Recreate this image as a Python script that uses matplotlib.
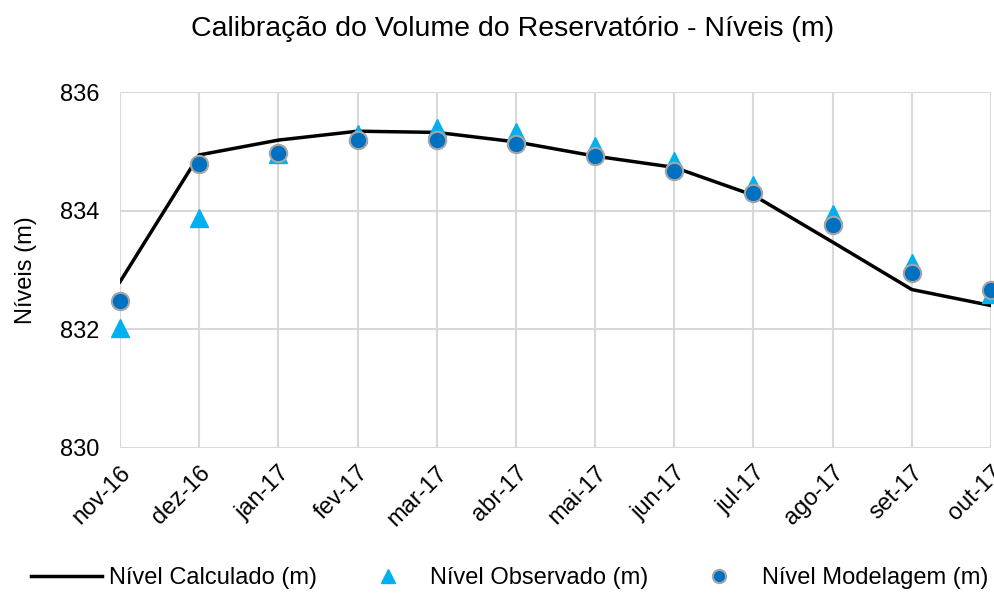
import numpy as np
import matplotlib.pyplot as plt
from matplotlib.lines import Line2D

plt.rcParams['font.family'] = ['Liberation Sans', 'DejaVu Sans']

meses = ['nov-16', 'dez-16', 'jan-17', 'fev-17', 'mar-17', 'abr-17',
         'mai-17', 'jun-17', 'jul-17', 'ago-17', 'set-17', 'out-17']
nivel_calculado = [832.80, 834.94, 835.19, 835.34, 835.32, 835.16,
                   834.92, 834.73, 834.26, 833.47, 832.67, 832.40]
nivel_observado = [832.02, 833.87, 834.95, 835.30, 835.39, 835.33,
                   835.09, 834.83, 834.44, 833.94, 833.12, 832.60]
nivel_modelagem = [832.48, 834.78, 834.97, 835.19, 835.20, 835.13,
                   834.92, 834.67, 834.29, 833.75, 832.95, 832.67]

x = np.arange(len(meses))

fig = plt.figure(figsize=(9.95, 5.94), dpi=100)
ax = fig.add_axes([0.1206, 0.246, 0.8754, 0.599])

ax.plot(x, nivel_calculado, color='black', lw=2.5, zorder=3,
        label='Nível Calculado (m)')
ax.plot(x, nivel_observado, ls='none', marker='^', ms=13.5, color='#00B0F0',
        mec='#00B0F0', zorder=4, clip_on=False, label='Nível Observado (m)')
ax.plot(x, nivel_modelagem, ls='none', marker='o', ms=12.5, color='#0070C0',
        mec='#A5A5A5', mew=1.5, zorder=5, clip_on=False,
        label='Nível Modelagem (m)')

ax.set_xlim(0, len(meses) - 1)
ax.set_ylim(830, 836)
ax.set_yticks([830, 832, 834, 836])
ax.set_xticks(x)
ax.set_xticklabels(meses, rotation=45, ha='right', rotation_mode='anchor')
ax.tick_params(length=0, labelsize=17, colors='black')
ax.tick_params(axis='x', pad=10)
ax.tick_params(axis='y', pad=15)
ax.grid(True, color='#D9D9D9', lw=1.5)
ax.set_axisbelow(True)
for s in ax.spines.values():
    s.set_visible(False)

ax.set_ylabel('Níveis (m)', fontsize=17, labelpad=16)
fig.text(0.515, 0.952, 'Calibração do Volume do Reservatório - Níveis (m)',
         ha='center', va='center', fontsize=20.5)

# legend along the bottom edge, one row
handles = [
    Line2D([], [], color='black', lw=2.5),
    Line2D([], [], ls='none', marker='^', ms=10, color='#00B0F0'),
    Line2D([], [], ls='none', marker='o', ms=9.5, color='#0070C0',
           mec='#A5A5A5', mew=1.5),
]
labels = ['Nível Calculado (m)', 'Nível Observado (m)', 'Nível Modelagem (m)']
fig.legend(handles, labels, loc='center', bbox_to_anchor=(0.512, 0.027),
           ncol=3, frameon=False, fontsize=17, columnspacing=1.5,
           handlelength=3.0, handletextpad=0.3, borderpad=0, borderaxespad=0)

fig.savefig('out.png', dpi=100)
